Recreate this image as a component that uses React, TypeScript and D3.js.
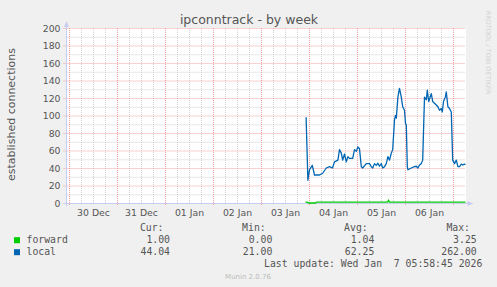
import React from "react";
import * as d3 from "d3";

// ---- data (hours after 03 Jan 00:00 UTC) ----
const localHours = [22.3, 23.2, 24, 25.4, 26.5, 29, 30.6, 32.4, 34, 35.5, 36.5, 38.2, 39, 39.9, 40.6, 41.5, 42.4, 43.2, 44, 45.6, 46.5, 47.4, 48.2, 49, 49.9, 50.6, 52.4, 54, 54.9, 55.6, 56.5, 57.4, 58.2, 59, 59.9, 60.6, 61.5, 62.4, 63.2, 64, 64.9, 65.6, 66.5, 67, 67.4, 68.2, 69, 69.9, 70.6, 71.5, 72, 72.4, 72.9, 73.2, 74.9, 76.5, 77.4, 78.2, 79, 79.9, 80.6, 81.5, 82.4, 82.9, 83.6, 84.9, 85.6, 86.5, 87.4, 88.2, 89, 89.9, 90.4, 91, 91.9, 92.4, 93.2, 94, 94.9, 95.6, 96.5, 97.4, 98.2, 99, 99.9, 100.6, 101.5, 102];
const localValues = [98, 26, 38, 43, 32, 32, 34, 40, 41.5, 40, 47, 49, 61, 57, 49, 56, 47, 53, 51, 51, 61, 59, 64, 62, 41.5, 40, 45, 45, 41.5, 40, 45, 43, 45.5, 42, 45, 40, 41.5, 45, 53, 49, 57, 61, 95, 100, 97, 121, 131, 121, 110, 106, 91, 89, 41.5, 38, 40, 41.5, 42, 40, 43.5, 45, 49, 121, 118, 129, 116, 125, 116, 114, 112, 110, 106, 108, 104, 116, 121, 127, 110, 108, 104, 49, 45, 49, 41.5, 41.5, 44.5, 43.5, 44.5, 44];
const forwardHours = [22, 23, 23.5, 27, 27.5, 63, 63.5, 64, 102];
const forwardValues = [1, 1, 0, 0, 1, 1, 3, 1, 1];

const yTicks = [0, 20, 40, 60, 80, 100, 120, 140, 160, 180, 200];
const legendRows = [
  { name: "forward", color: "#00cc00", cur: "1.00", min: "0.00", avg: "1.04", max: "3.25" },
  { name: "local", color: "#0066b3", cur: "44.04", min: "21.00", avg: "62.25", max: "262.00" },
];
const title = "ipconntrack - by week";
const yLabel = "established connections";
const lastUpdate = "Last update: Wed Jan  7 05:58:45 2026";

const H = 3600 * 1000;
const END = Date.UTC(2026, 0, 7, 6, 0);
const START = END - 200 * H;
const ANCHOR = Date.UTC(2026, 0, 3);

export default function App() {
  const W = 497, HH = 287;
  const left = 65.5, right = 465.5, top = 28, bottom = 203;
  const x = d3.scaleUtc().domain([new Date(START), new Date(END)]).range([left, right]);
  const y = d3.scaleLinear().domain([0, 200]).range([bottom, top]);

  const toPts = (hs: number[], vs: number[]) =>
    hs.map((h, i) => [new Date(ANCHOR + h * H), vs[i]] as [Date, number]);
  const line = d3
    .line<[Date, number]>()
    .x((d) => x(d[0]))
    .y((d) => y(d[1]));

  const days = d3.utcDay.range(new Date(START), new Date(END));
  const labelDays = days.filter((d) => +d + 12 * H < END);
  const sixH = d3.utcHour.every(6)!.range(new Date(START), new Date(END));
  const minorY = d3.range(10, 200, 20);

  const sans = "DejaVu Sans, sans-serif";
  const mono = "DejaVu Sans Mono, monospace";
  const txt = "#555";
  const redGrid = "#f4a0a0";
  const grayGrid = "#d0d0d0";
  const axisCol = "#c8ccf0";

  const cols = [
    { head: "Cur:", hx: 163.5, vx: 170, key: "cur" },
    { head: "Min:", hx: 265.7, vx: 272.3, key: "min" },
    { head: "Avg:", hx: 367.7, vx: 374.3, key: "avg" },
    { head: "Max:", hx: 470, vx: 476.7, key: "max" },
  ];

  return (
    <svg width={W} height={HH} style={{ position: "absolute", left: 0, top: 0 }}>
      <rect width={W} height={HH} fill="#f0f0f0" />
      <rect x={left + 0.5} y={top} width={right - left} height={bottom - top} fill="#fff" />
      {/* minor grid */}
      {sixH.map((d, i) => (
        <line key={"vm" + i} x1={x(d)} x2={x(d)} y1={top} y2={bottom} stroke={grayGrid} strokeDasharray="1,1" />
      ))}
      {minorY.map((v) => (
        <line key={"hm" + v} x1={left} x2={right} y1={y(v) + 0.5} y2={y(v) + 0.5} stroke={grayGrid} strokeDasharray="1,1" />
      ))}
      {/* major grid */}
      {days.map((d, i) => (
        <line key={"vM" + i} x1={x(d)} x2={x(d)} y1={top} y2={bottom + 3} stroke={redGrid} strokeDasharray="1,1" />
      ))}
      {yTicks.map((v) => (
        <line key={"hM" + v} x1={left - 2} x2={right} y1={y(v) + 0.5} y2={y(v) + 0.5} stroke={redGrid} strokeDasharray="1,1" />
      ))}
      {/* axes */}
      <line x1={left + 1} x2={left + 1} y1={bottom + 3} y2={top - 2} stroke={axisCol} />
      <path d={`M${left - 1.5},${top - 1} L${left + 3.5},${top - 1} L${left + 1},${top - 7} Z`} fill={axisCol} />
      <line x1={left - 2} x2={right + 3} y1={bottom + 0.5} y2={bottom + 0.5} stroke={axisCol} />
      <path d={`M${right + 2},${bottom - 2} L${right + 2},${bottom + 3} L${right + 8},${bottom + 0.5} Z`} fill={axisCol} />
      {/* series */}
      <path d={line(toPts(forwardHours, forwardValues)) || ""} fill="none" stroke="#00cc00" strokeWidth={1.3} />
      <path d={line(toPts(localHours, localValues)) || ""} fill="none" stroke="#0066b3" strokeWidth={1.3} strokeLinejoin="round" />
      {/* y tick labels */}
      {yTicks.map((v) => (
        <text key={"yl" + v} x={60.5} y={y(v) + 3.6} textAnchor="end" fontFamily={sans} fontSize={9.3} fill={txt}>
          {v}
        </text>
      ))}
      {/* x tick labels */}
      {labelDays.map((d, i) => (
        <text key={"xl" + i} x={x(new Date(+d + 12 * H))} y={216.3} textAnchor="middle" fontFamily={sans} fontSize={9.3} fill={txt}>
          {d3.utcFormat("%d %b")(d)}
        </text>
      ))}
      {/* title */}
      <text x={249} y={24} textAnchor="middle" fontFamily={sans} fontSize={12.5} fill={txt}>
        {title}
      </text>
      {/* y label */}
      <text transform="translate(15,114.5) rotate(-90)" textAnchor="middle" fontFamily={sans} fontSize={11} fill={txt}>
        {yLabel}
      </text>
      {/* watermark */}
      <text transform="translate(485.5,52.5) rotate(90)" textAnchor="middle" fontFamily={sans} fontSize={6.5} fill="#d2d2d2">
        RRDTOOL / TOBI OETIKER
      </text>
      {/* legend */}
      {cols.map((c) => (
        <text key={c.head} x={c.hx} y={231.2} textAnchor="end" fontFamily={mono} fontSize={9.8} fill={txt}>
          {c.head}
        </text>
      ))}
      {legendRows.map((r, i) => {
        const by = 243.2 + i * 12;
        return (
          <g key={r.name}>
            <rect x={14} y={by - 6} width={6} height={6} fill={r.color} />
            <text x={26.5} y={by} fontFamily={mono} fontSize={9.8} fill={txt}>
              {r.name}
            </text>
            {cols.map((c) => (
              <text key={c.key} x={c.vx} y={by} textAnchor="end" fontFamily={mono} fontSize={9.8} fill={txt}>
                {(r as any)[c.key]}
              </text>
            ))}
          </g>
        );
      })}
      <text x={482.3} y={266.8} textAnchor="end" fontFamily={mono} fontSize={9.8} fill={txt} style={{ whiteSpace: "pre" }} xmlSpace="preserve">
        {lastUpdate}
      </text>
      <text x={248} y={279} textAnchor="middle" fontFamily={sans} fontSize={7} fill="#bbbbbb">
        Munin 2.0.76
      </text>
    </svg>
  );
}
